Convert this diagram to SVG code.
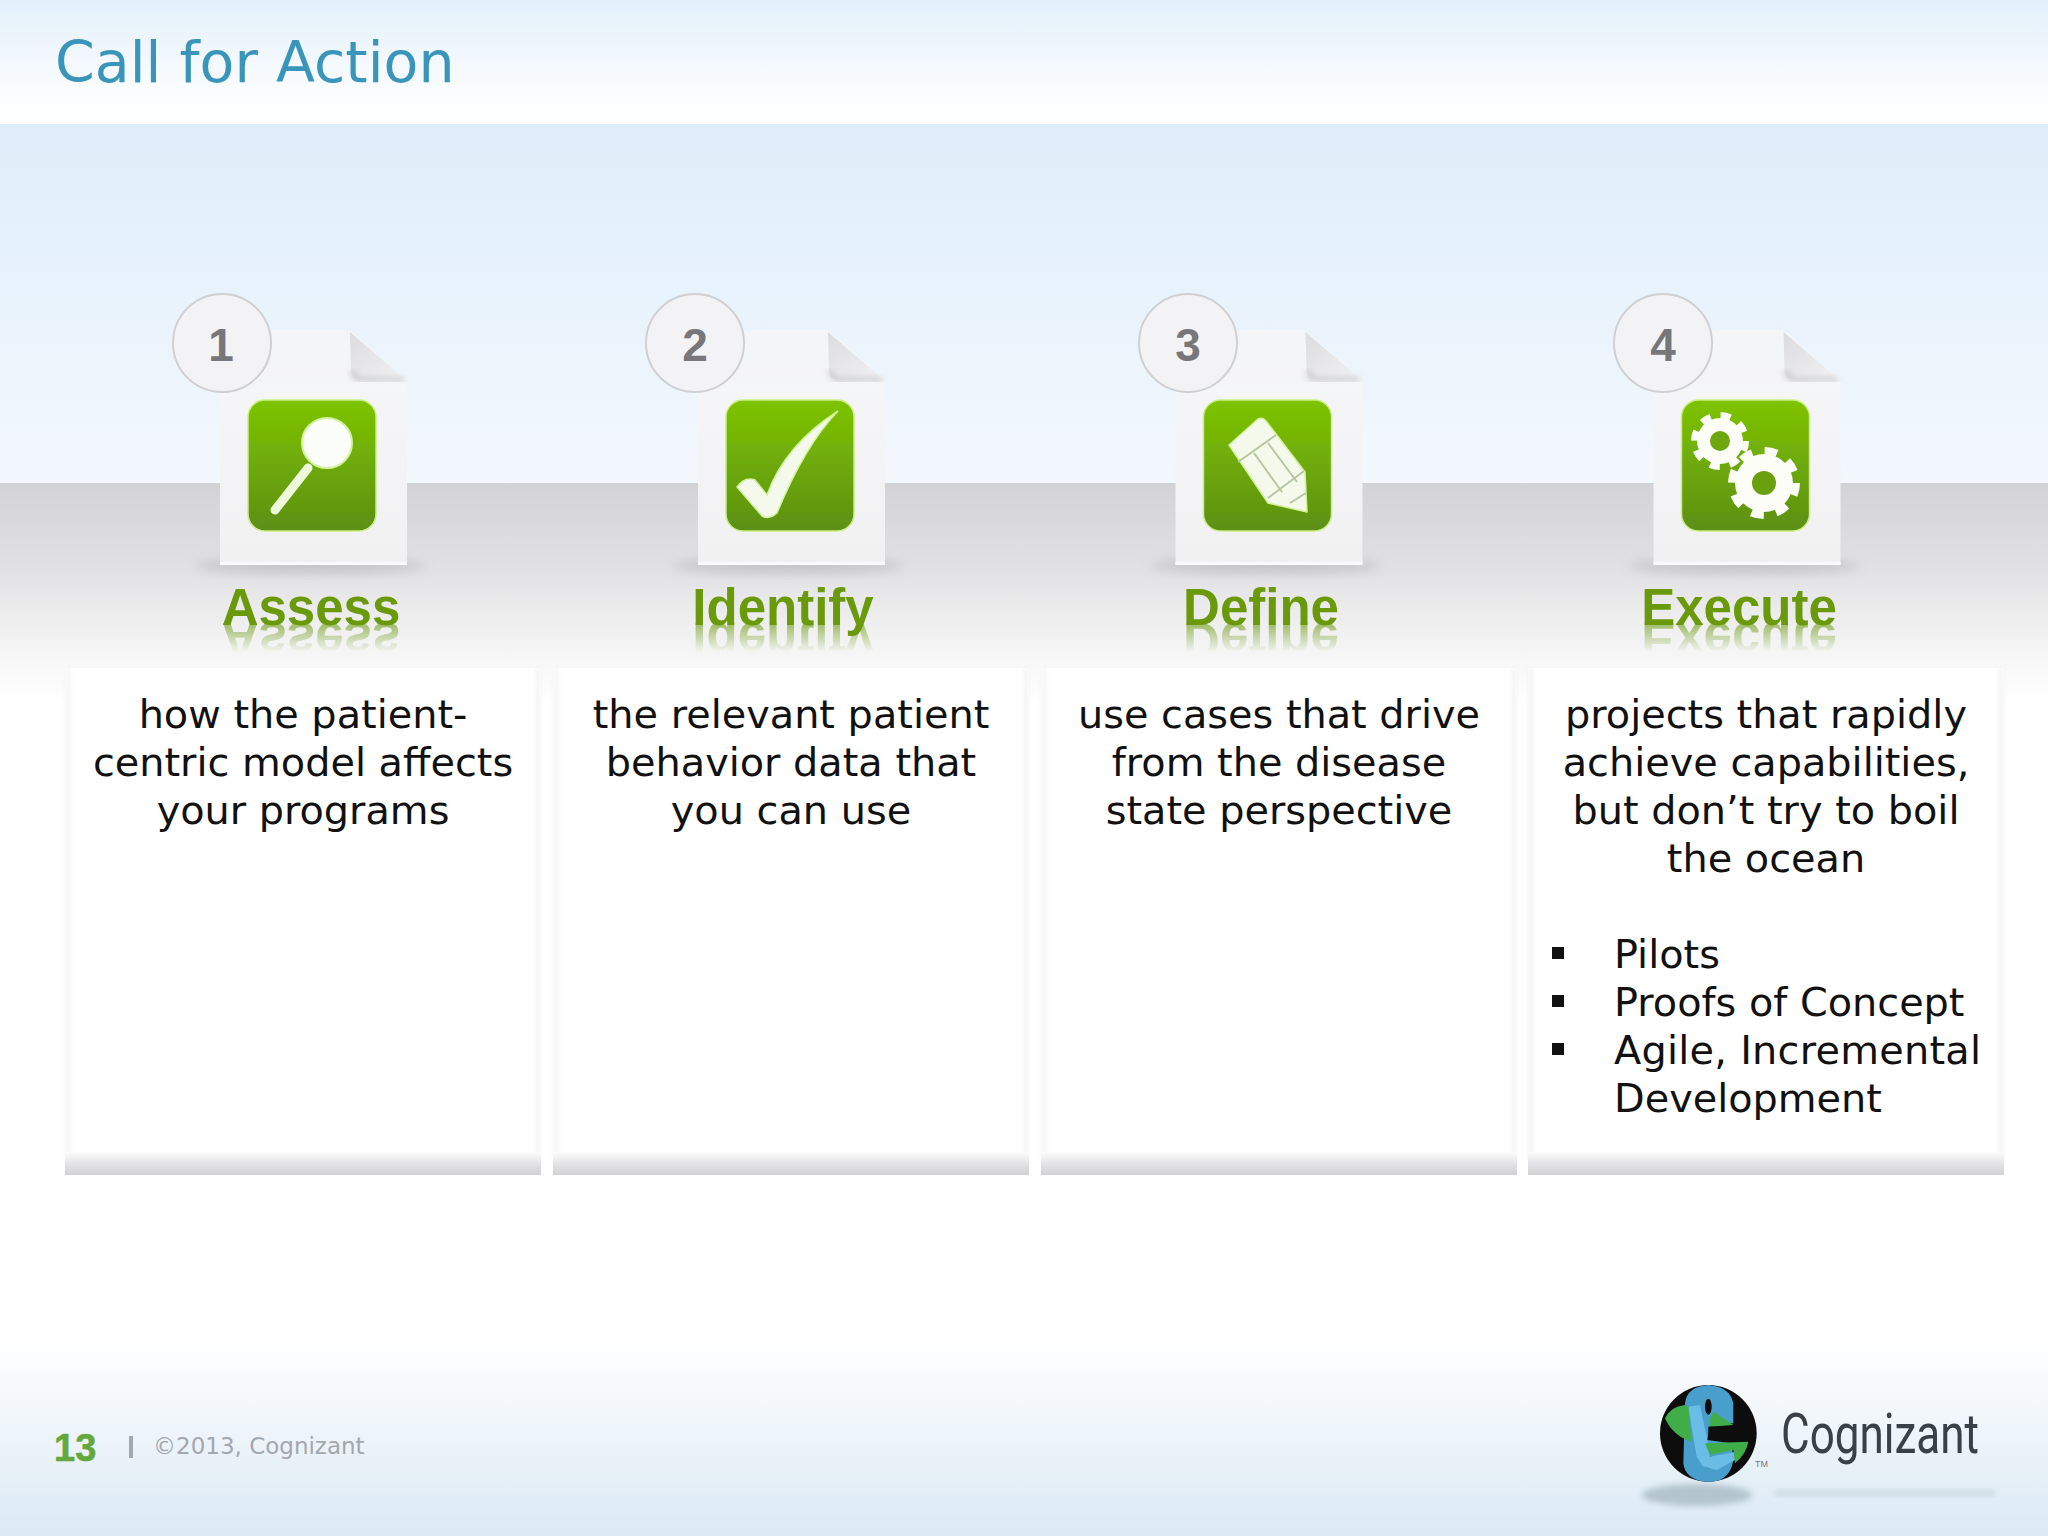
<svg xmlns="http://www.w3.org/2000/svg" width="2048" height="1536" viewBox="0 0 2048 1536">
<defs>
<linearGradient id="topband" x1="0" y1="0" x2="0" y2="1"><stop offset="0" stop-color="#e3f0fa"/><stop offset="0.75" stop-color="#fbfdff"/><stop offset="1" stop-color="#ffffff"/></linearGradient>
<linearGradient id="sky" x1="0" y1="0" x2="0" y2="1"><stop offset="0" stop-color="#dfeefb"/><stop offset="1" stop-color="#f3f8fd"/></linearGradient>
<linearGradient id="floor" x1="0" y1="0" x2="0" y2="1"><stop offset="0" stop-color="#d3d3d5"/><stop offset="0.4" stop-color="#e2e2e4"/><stop offset="0.8" stop-color="#f7f7f7"/><stop offset="1" stop-color="#ffffff"/></linearGradient>
<linearGradient id="foot" x1="0" y1="0" x2="0" y2="1"><stop offset="0" stop-color="#ffffff"/><stop offset="1" stop-color="#dbe9f4"/></linearGradient>
<linearGradient id="tile" x1="0" y1="0" x2="0" y2="1"><stop offset="0" stop-color="#7ec400"/><stop offset="1" stop-color="#5c8f14"/></linearGradient>
<linearGradient id="cardfoot" x1="0" y1="0" x2="0" y2="1"><stop offset="0" stop-color="#fdfcfd"/><stop offset="0.55" stop-color="#e2e1e3"/><stop offset="1" stop-color="#d1d0d2"/></linearGradient>
<linearGradient id="paper" x1="0" y1="0" x2="0" y2="1"><stop offset="0" stop-color="#f5f5f7" stop-opacity="0.85"/><stop offset="0.35" stop-color="#f5f5f7"/><stop offset="1" stop-color="#f1f1f2"/></linearGradient>
<linearGradient id="fold" x1="0" y1="0" x2="1" y2="1"><stop offset="0" stop-color="#dcdcdf"/><stop offset="1" stop-color="#f2f2f4"/></linearGradient>
<linearGradient id="fade" gradientUnits="userSpaceOnUse" x1="0" y1="626" x2="0" y2="652"><stop offset="0" stop-color="#fff" stop-opacity="0.55"/><stop offset="1" stop-color="#fff" stop-opacity="0"/></linearGradient>
<mask id="reflect" maskUnits="userSpaceOnUse" x="0" y="620" width="2048" height="40"><rect x="0" y="620" width="2048" height="40" fill="url(#fade)"/></mask>
<filter id="blur6" x="-20%" y="-200%" width="140%" height="500%"><feGaussianBlur stdDeviation="6"/></filter>
<filter id="blur3" x="-20%" y="-20%" width="140%" height="140%"><feGaussianBlur stdDeviation="3"/></filter>
<filter id="soft" x="-10%" y="-10%" width="120%" height="120%"><feGaussianBlur stdDeviation="0.7"/></filter>
<filter id="edge" x="-200%" y="-5%" width="500%" height="110%"><feGaussianBlur stdDeviation="2"/></filter>
<clipPath id="globe"><circle cx="265" cy="220" r="145"/></clipPath>
<g id="doc">
<ellipse cx="90" cy="236" rx="116" ry="7" fill="#a8a8ac" opacity="0.55" filter="url(#blur6)"/>
<path d="M0 0H130L187 50V235H0Z" fill="url(#paper)" filter="url(#soft)"/>
<path d="M130 2L186 50H140Q131 50 131 40Z" fill="url(#fold)" filter="url(#soft)"/>
<path d="M132 40Q134 50 142 50H184" fill="none" stroke="#c6c6ca" stroke-width="4" filter="url(#blur3)"/>
<rect x="0" y="232" width="187" height="3" fill="#fafafb"/>
<rect x="28" y="70" width="128" height="131" rx="17" fill="url(#tile)" stroke="#c9ee84" stroke-width="1.5" filter="url(#soft)"/>
</g>
<g id="card">
<rect x="0" y="0" width="476" height="507" fill="#ffffff"/>
<rect x="1" y="0" width="4" height="495" fill="#eeeef0" opacity="0.75" filter="url(#edge)"/>
<rect x="471" y="0" width="4" height="495" fill="#eeeef0" opacity="0.75" filter="url(#edge)"/>
<rect x="0" y="484" width="476" height="23" fill="url(#cardfoot)"/>
</g>
</defs>
<style>
.body{font-family:"DejaVu Sans",Verdana,sans-serif;font-size:39.8px;fill:#111111;text-anchor:middle}
.left{text-anchor:start}
.step{font-family:"Liberation Sans",Arial,sans-serif;font-weight:700;font-size:51px;fill:#6a9a0c;text-anchor:middle}
.num{font-family:"Liberation Sans",Arial,sans-serif;font-weight:700;font-size:46px;fill:#77777b;text-anchor:middle}
.badge{fill:#f3f3f5;stroke:#d0d0d2;stroke-width:2}
.ink{fill:#f4f9ec;stroke:#d3f29c;stroke-width:1.5}
.rule{fill:none;stroke:#b6c7a0;stroke-width:2}
.mirror{transform:translate(0,1248px) scale(1,-1)}
</style>

<g id="background">
<rect x="0" y="124" width="2048" height="360" fill="url(#sky)"/>
<rect x="0" y="483" width="2048" height="220" fill="url(#floor)"/>
<rect x="0" y="703" width="2048" height="637" fill="#ffffff"/>
<rect x="0" y="1340" width="2048" height="196" fill="url(#foot)"/>
<rect x="0" y="0" width="2048" height="124" fill="url(#topband)"/>
</g>

<text id="title" x="55" y="82" font-family="'DejaVu Sans',Verdana,sans-serif" font-size="57" fill="#3a95bb">Call for Action</text>

<g id="step-1">
<use href="#doc" x="220" y="330"/>
<circle class="badge" cx="222" cy="343" r="49"/>
<text class="num" x="221" y="361">1</text>
<g filter="url(#soft)">
<line x1="308" y1="468" x2="275" y2="510" stroke="#eef8da" stroke-width="9" stroke-linecap="round"/>
<circle cx="327" cy="443" r="25" fill="#fbfdf8" stroke="#d3f29c" stroke-width="2"/>
</g>
<text id="label-1" class="step" x="311" y="625">Assess</text>
<g mask="url(#reflect)"><use href="#label-1" class="mirror"/></g>
</g>

<g id="step-2">
<use href="#doc" x="698" y="330"/>
<circle class="badge" cx="695" cy="343" r="49"/>
<text class="num" x="695" y="361">2</text>
<path class="ink" filter="url(#soft)" d="M737 487Q745 476 755 480L767 495Q785 445 838 411Q805 445 777 513Q769 520 762 516Z"/>
<text id="label-2" class="step" x="783" y="625">Identify</text>
<g mask="url(#reflect)"><use href="#label-2" class="mirror"/></g>
</g>

<g id="step-3">
<use href="#doc" x="1175.5" y="330"/>
<circle class="badge" cx="1188" cy="343" r="49"/>
<text class="num" x="1188" y="361">3</text>
<g filter="url(#soft)">
<path class="ink" stroke-linejoin="round" d="M1229 445L1258 419Q1263 417 1266 421L1305 472L1307 512L1268 503Z"/>
<path class="rule" d="M1238 462L1276 435M1254 453L1282 492M1268 443L1297 482M1268 498L1304 471M1290 503L1306 493"/>
</g>
<text id="label-3" class="step" x="1261" y="625">Define</text>
<g mask="url(#reflect)"><use href="#label-3" class="mirror"/></g>
</g>

<g id="step-4">
<use href="#doc" x="1653.5" y="330"/>
<circle class="badge" cx="1663" cy="343" r="49"/>
<text class="num" x="1663" y="361">4</text>
<g filter="url(#soft)">
<circle cx="1720" cy="441" r="23" fill="#fbfdf6"/>
<circle cx="1720" cy="441" r="25.5" fill="none" stroke="#fbfdf6" stroke-width="7" stroke-dasharray="10 10"/>
<circle cx="1720" cy="441" r="10" fill="#6ea60e"/>
<circle cx="1764" cy="483" r="29" fill="#fbfdf6"/>
<circle cx="1764" cy="483" r="32" fill="none" stroke="#fbfdf6" stroke-width="8" stroke-dasharray="12.6 12.6"/>
<circle cx="1764" cy="483" r="12" fill="#6a9f10"/>
</g>
<text id="label-4" class="step" x="1739" y="625">Execute</text>
<g mask="url(#reflect)"><use href="#label-4" class="mirror"/></g>
</g>

<g id="card-1">
<use href="#card" x="65" y="668"/>
<text class="body" x="303" y="728">how the patient-</text>
<text class="body" x="303" y="776">centric model affects</text>
<text class="body" x="303" y="824">your programs</text>
</g>
<g id="card-2">
<use href="#card" x="553" y="668"/>
<text class="body" x="791" y="728">the relevant patient</text>
<text class="body" x="791" y="776">behavior data that</text>
<text class="body" x="791" y="824">you can use</text>
</g>
<g id="card-3">
<use href="#card" x="1041" y="668"/>
<text class="body" x="1279" y="728">use cases that drive</text>
<text class="body" x="1279" y="776">from the disease</text>
<text class="body" x="1279" y="824">state perspective</text>
</g>
<g id="card-4">
<use href="#card" x="1528" y="668"/>
<text class="body" x="1766" y="728">projects that rapidly</text>
<text class="body" x="1766" y="776">achieve capabilities,</text>
<text class="body" x="1766" y="824">but don’t try to boil</text>
<text class="body" x="1766" y="872">the ocean</text>
<rect x="1552" y="947" width="12" height="12" fill="#111"/>
<rect x="1552" y="995" width="12" height="12" fill="#111"/>
<rect x="1552" y="1043" width="12" height="12" fill="#111"/>
<text class="body left" x="1614" y="968">Pilots</text>
<text class="body left" x="1614" y="1016">Proofs of Concept</text>
<text class="body left" x="1614" y="1064" textLength="367">Agile, Incremental</text>
<text class="body left" x="1614" y="1112">Development</text>
</g>

<g id="footer">
<text x="54" y="1461" font-family="'Liberation Sans',Arial,sans-serif" font-weight="700" font-size="38" fill="#63a83c" stroke="#63a83c" stroke-width="0.6">13</text>
<rect x="129" y="1436" width="4" height="22" fill="#a3a7af"/>
<text x="153" y="1454" font-family="'DejaVu Sans',Verdana,sans-serif" font-size="23" fill="#a3a7af">©2013, Cognizant</text>
</g>

<g id="logo">
<ellipse cx="1697" cy="1495" rx="55" ry="11" fill="#9aaeb6" opacity="0.65" filter="url(#blur3)"/>
<rect x="1775" y="1490" width="220" height="6" fill="#bccad2" opacity="0.6" filter="url(#blur3)"/>
<g transform="translate(1620 1360) scale(0.3333)" filter="url(#soft)">
<circle cx="265" cy="220" r="145" fill="#0a0a0a"/>
<g clip-path="url(#globe)">
<path d="M195 130Q200 80 265 75Q330 80 340 130L340 190L270 195L262 240L335 250L340 300Q330 365 265 367Q195 360 190 310Z" fill="#4a9fcb"/>
<ellipse cx="265" cy="140" rx="10" ry="24" fill="#0a0a0a"/>
<ellipse cx="265" cy="305" rx="10" ry="20" fill="#0a0a0a"/>
<path d="M205 140L240 135L262 240L270 290L350 275L345 300L290 330L250 320L230 290Z" fill="#69bde6"/>
<path d="M135 175Q150 140 195 135L205 140L215 245Q160 230 135 175Z" fill="#3fad4a"/>
<path d="M270 175L280 155L340 195L270 200Z" fill="#3fad4a"/>
<path d="M255 250L385 245Q380 280 345 310L340 270L270 285Z" fill="#3fad4a"/>
<path d="M265 200H345V240H265Z" fill="#0a0a0a"/>
</g>
</g>
<text x="1755" y="1467" font-family="'Liberation Sans',Arial,sans-serif" font-size="9" fill="#777">TM</text>
<text x="1781" y="1453" font-family="Roboto,'Liberation Sans',sans-serif" font-size="56" fill="#3a4048" textLength="198" lengthAdjust="spacingAndGlyphs">Cognizant</text>
</g>
</svg>
